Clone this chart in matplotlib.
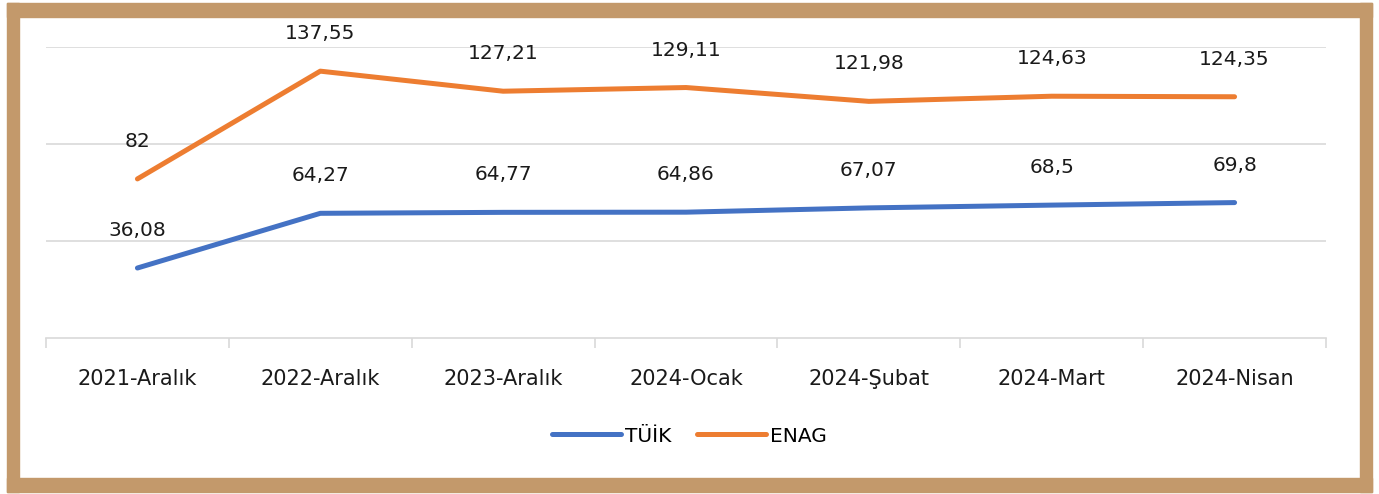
import matplotlib.pyplot as plt
from matplotlib.patches import Rectangle

# --- DONNÉES ---
donemler = ["2021-Aralık", "2022-Aralık", "2023-Aralık", "2024-Ocak", "2024-Şubat", "2024-Mart", "2024-Nisan"]
tuik = [36.08, 64.27, 64.77, 64.86, 67.07, 68.5, 69.8]
enag = [82, 137.55, 127.21, 129.11, 121.98, 124.63, 124.35]

plt.rcParams['font.family'] = ['DejaVu Sans']

fig = plt.figure(figsize=(13.79, 4.94), dpi=100)
ax = fig.add_axes([46 / 1379, 1 - 338 / 494, 1280 / 1379, 291 / 494])

x = list(range(len(donemler)))
ax.plot(x, tuik, color='#4472C4', lw=3.6, solid_capstyle='round', label="TÜİK")
ax.plot(x, enag, color='#ED7D31', lw=3.6, solid_capstyle='round', label="ENAG")

# étiquettes des valeurs
for serie in (tuik, enag):
    for i, v in enumerate(serie):
        ax.annotate(str(v).replace('.', ','), (i, v), xytext=(0, 27), textcoords='offset points',
                    ha='center', va='center', fontsize=14.5, color='#1a1a1a')

ax.set_xlim(-0.5, len(donemler) - 0.5)
ax.set_ylim(0, 150)
ax.set_yticks([50, 100, 150])
ax.yaxis.grid(True, color='#D9D9D9', lw=1.2)
ax.tick_params(axis='y', left=False, labelleft=False)

ax.set_xticks(x)
ax.set_xticklabels(donemler, fontsize=15, color='#1a1a1a')
ax.set_xticks([i - 0.5 for i in range(len(donemler) + 1)], minor=True)
ax.tick_params(axis='x', which='major', length=0, pad=22)
ax.tick_params(axis='x', which='minor', length=7, color='#D9D9D9', width=1.2)

for s in ['top', 'right', 'left']:
    ax.spines[s].set_visible(False)
ax.spines['bottom'].set_color('#D9D9D9')
ax.spines['bottom'].set_linewidth(1.2)
ax.set_axisbelow(True)

fig.legend(loc='center', bbox_to_anchor=(0.5, 1 - 436 / 494), ncol=2, frameon=False,
           fontsize=14.5, handlelength=3.4, handletextpad=0.2, columnspacing=1.3)

# --- CADRE ---
W, H = 1379, 494
cadre = '#C3996B'
fig.patches.append(Rectangle((7 / W, 1 - 17 / H), (1372 - 7) / W, 14 / H, transform=fig.transFigure, color=cadre))
fig.patches.append(Rectangle((7 / W, 1 - 492 / H), (1372 - 7) / W, 14 / H, transform=fig.transFigure, color=cadre))
fig.patches.append(Rectangle((7 / W, 1 - 492 / H), 12 / W, (492 - 3) / H, transform=fig.transFigure, color=cadre))
fig.patches.append(Rectangle((1360 / W, 1 - 492 / H), 12 / W, (492 - 3) / H, transform=fig.transFigure, color=cadre))

fig.savefig("out.png", dpi=100)
